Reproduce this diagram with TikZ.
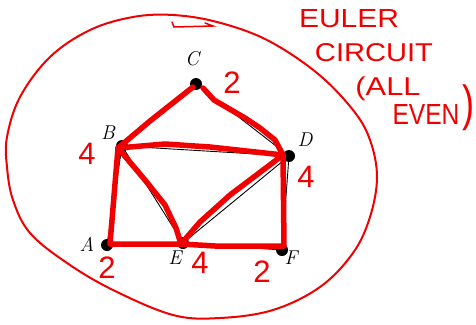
\documentclass[tikz,border=0pt]{standalone}
\usepackage{fontspec}
\usepackage{graphicx}
\newfontfamily\hand{Liberation Sans}
\definecolor{ink}{RGB}{240,0,0}
\begin{document}
\begin{tikzpicture}[x=1pt,y=-1pt,
  vtx/.style={circle,fill=black,inner sep=0pt,minimum size=12pt},
  lbl/.style={font=\fontsize{20}{20}\selectfont\itshape,inner sep=0pt},
  num/.style={text=ink,font=\hand\fontsize{31}{31}\selectfont,inner sep=0pt},
  note/.style={text=ink,font=\hand,inner sep=0pt},
  thin/.style={draw=black,line width=0.9pt},
  redge/.style={draw=ink,line width=5.5pt,line cap=round,line join=round}]
\useasboundingbox (0,0) rectangle (476,324);
% outer closed curve
\draw[ink,line width=2pt] plot[smooth cycle,tension=0.6] coordinates {
 (7,137) (20,97) (50,57) (90,30) (133,17) (173,15) (217,22) (267,40)
 (317,73) (353,110) (370,140) (377,177) (370,217) (353,253) (320,287)
 (273,310) (220,318) (173,315) (113,290) (67,263) (30,233) (13,200) (7,167)};
\draw[ink,line width=1.5pt,line cap=round] (172,22) -- (174,27) -- (213,26) -- (205,23);
% vertices
\node[vtx] (C) at (196,84) {};
\node[vtx] (B) at (122,146) {};
\node[vtx] (D) at (289,156) {};
\node[vtx] (A) at (107,245) {};
\node[vtx] (E) at (183,243) {};
\node[vtx] (F) at (282,250) {};
% black edges
\draw[thin] (A.center) -- (B.center) -- (C.center) -- (D.center) -- (F.center) -- (E.center) -- (A.center);
\draw[thin] (B.center) -- (D.center);
\draw[thin] (B.center) -- (E.center) -- (D.center);
% red circuit
\coordinate (b1) at (118,148);
\coordinate (c1) at (193,87);
\coordinate (c2) at (203,88);
\coordinate (d1) at (283,155);
\coordinate (e1) at (181,244);
\coordinate (a1) at (110,244);
\coordinate (f1) at (284,246);
\draw[redge] (b1) -- (150,121) -- (c1);
\draw[redge] (c2) -- (214,100) -- (245,118) -- (260,128) -- (275,140) -- (d1);
\draw[redge] (b1) -- (165,144) -- (210,147) -- (d1);
\draw[redge] (d1) -- (230,195) -- (200,222) -- (e1);
\draw[redge] (b1) -- (145,180) -- (165,205) -- (176,228) -- (e1);
\draw[redge] (b1) -- (a1) -- (e1);
\draw[redge] (e1) -- (215,246) -- (f1) -- (d1);
% vertex labels
\node[lbl] (lC) at (192,59) {C};
\node[lbl] (lB) at (108,133) {B};
\node[lbl] (lD) at (305,140) {D};
\node[lbl] (lA) at (87,244) {A};
\node[lbl] (lE) at (175,258) {E};
\node[lbl] (lF) at (291,258) {F};
% degrees
\node[num] (nC) at (232,83) {2};
\node[num] (nB) at (87,154) {4};
\node[num] (nD) at (306,177) {4};
\node[num] (nA) at (107,268) {2};
\node[num] (nE) at (200,263) {4};
\node[num] (nF) at (262,272) {2};
% note
\node[note] (t1) at (349,19) {\resizebox{100pt}{18pt}{EULER}};
\node[note] (t2) at (374,53) {\resizebox{118pt}{18pt}{CIRCUIT}};
\node[note] (t3) at (388,89) {\resizebox*{65pt}{24pt}{(ALL}};
\node[note] (t4) at (426,114) {\resizebox{67pt}{20pt}{EVEN}};
\node[note] (t5) at (468,108) {\resizebox*{12pt}{46pt}{)}};
\end{tikzpicture}
\end{document}
